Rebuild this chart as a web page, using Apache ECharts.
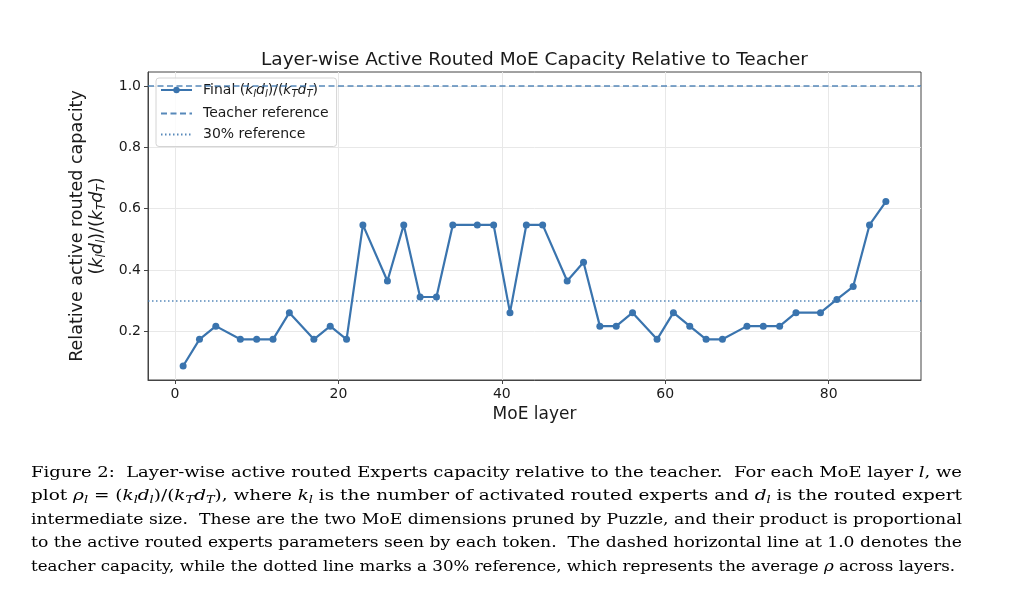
<!DOCTYPE html>
<html>
<head>
<meta charset="utf-8">
<script src="https://cdn.jsdelivr.net/npm/echarts@6/dist/echarts.min.js"></script>
<style>
  html, body { margin: 0; padding: 0; background: #fff; }
  #chart { width: 1024px; height: 596px; }
</style>
</head>
<body>
<div id="chart"></div>
<script>
// MoE layer index and final (k_l d_l)/(k_T d_T)
const moeLayers = [1, 3, 5, 8, 10, 12, 14, 17, 19, 21, 23, 26, 28, 30, 32, 34, 37, 39, 41, 43,
  45, 48, 50, 52, 54, 56, 59, 61, 63, 65, 67, 70, 72, 74, 76, 79, 81, 83, 85, 87];
const capacity = [0.087, 0.174, 0.217, 0.174, 0.174, 0.174, 0.261, 0.174, 0.217, 0.174,
  0.547, 0.364, 0.547, 0.312, 0.312, 0.547, 0.547, 0.547, 0.261, 0.547,
  0.547, 0.364, 0.425, 0.217, 0.217, 0.261, 0.174, 0.261, 0.217, 0.174,
  0.174, 0.217, 0.217, 0.217, 0.261, 0.261, 0.304, 0.346, 0.547, 0.623];
const teacherRef = 1.0;
const avgRef = 0.3;
const xTicks = [0, 20, 40, 60, 80];
const yTicks = [0.2, 0.4, 0.6, 0.8, 1.0];

const blue = '#3a74ae';
const ink = '#1a1a1a';
const sans = 'DejaVu Sans';
const serif = 'DejaVu Serif';

// matplotlib style 5% margins
function padded(lo, hi) {
  const m = (hi - lo) * 0.05;
  return [lo - m, hi + m];
}
const xr = padded(Math.min(...moeLayers), Math.max(...moeLayers));
const yr = padded(Math.min(...capacity, teacherRef), Math.max(...capacity, teacherRef));

const mathRich = (size, lh) => ({
  n: { fontFamily: sans, fontSize: size, color: ink, lineHeight: lh },
  i: { fontFamily: sans, fontSize: size, fontStyle: 'italic', color: ink, lineHeight: lh },
  s: { fontFamily: sans, fontSize: Math.round(size * 0.7), fontStyle: 'italic', color: ink,
       verticalAlign: 'bottom', lineHeight: Math.round(size * 0.7) + 2 }
});
const ratioRich = '{n|(}{i|k}{s|l}{i|d}{s|l}{n|)/(}{i|k}{s|T}{i|d}{s|T}{n|)}';

// caption, split the way the figure wraps it
const caption = [
  [['n', 'Figure 2:  Layer-wise active routed Experts capacity relative to the teacher.  For each MoE layer '], ['i', 'l'], ['n', ', we']],
  [['n', 'plot '], ['i', 'ρ'], ['s', 'l'], ['n', ' = ('], ['i', 'k'], ['s', 'l'], ['i', 'd'], ['s', 'l'], ['n', ')/('], ['i', 'k'], ['s', 'T'], ['i', 'd'], ['s', 'T'],
   ['n', '), where '], ['i', 'k'], ['s', 'l'], ['n', ' is the number of activated routed experts and '], ['i', 'd'], ['s', 'l'], ['n', ' is the routed expert']],
  [['n', 'intermediate size.  These are the two MoE dimensions pruned by Puzzle, and their product is proportional']],
  [['n', 'to the active routed experts parameters seen by each token.  The dashed horizontal line at 1.0 denotes the']],
  [['n', 'teacher capacity, while the dotted line marks a 30% reference, which represents the average '], ['i', 'ρ'], ['n', ' across layers.']]
];
const capSize = 15;
const capRich = {
  n: { fontFamily: serif, fontSize: capSize, color: '#111', lineHeight: 19 },
  i: { fontFamily: serif, fontSize: capSize, fontStyle: 'italic', color: '#111', lineHeight: 19 },
  s: { fontFamily: serif, fontSize: 10.5, fontStyle: 'italic', color: '#111', verticalAlign: 'bottom', lineHeight: 13 }
};
const ctx = document.createElement('canvas').getContext('2d');
function segWidth(style, text) {
  const st = capRich[style];
  ctx.font = (st.fontStyle || 'normal') + ' normal ' + st.fontSize + 'px "' + st.fontFamily + '"';
  return ctx.measureText(text).width;
}
const capLeft = 31, capRight = 962, capTop = 473, capStep = 23.5;
const captionEls = caption.map((line, k) => {
  const w = line.reduce((a, [st, t]) => a + segWidth(st, t), 0);
  const target = (k === caption.length - 1 ? 955 : capRight) - capLeft;
  return {
    type: 'text', x: capLeft, y: capTop + k * capStep, scaleX: target / w, silent: true,
    style: {
      text: line.map(([st, t]) => '{' + st + '|' + t + '}').join(''),
      rich: capRich, verticalAlign: 'middle'
    }
  };
});

const titleEl = {
  type: 'text', x: 534.5, y: 60, silent: true,
  style: {
    text: 'Layer-wise Active Routed MoE Capacity Relative to Teacher',
    fontFamily: sans, fontSize: 18.5, fill: ink, align: 'center', verticalAlign: 'middle'
  }
};

const hidden = { color: 'rgba(0,0,0,0)', borderWidth: 0 };

const chart = echarts.init(document.getElementById('chart'), null, { renderer: 'canvas' });
chart.setOption({
  animation: false,
  backgroundColor: '#fff',
  legend: {
    orient: 'vertical', left: 156, top: 78,
    padding: [5, 8, 5, 4], itemGap: 7, itemWidth: 31, itemHeight: 8,
    backgroundColor: 'rgba(255,255,255,0.8)', borderColor: '#d4d4d4', borderWidth: 1, borderRadius: 3,
    textStyle: { fontFamily: sans, fontSize: 14, color: ink, padding: [0, 0, 0, 6], rich: mathRich(14, 19) },
    formatter: (name) => name === 'final' ? '{n|Final }' + ratioRich : '{n|' + name + '}',
    data: [
      'final',
      { name: 'Teacher reference', itemStyle: hidden },
      { name: '30% reference', itemStyle: hidden }
    ]
  },
  grid: { left: 148, right: 103, top: 72, bottom: 216, show: true, borderColor: '#444', borderWidth: 1 },
  xAxis: {
    type: 'value', min: xr[0], max: xr[1],
    name: 'MoE layer', nameLocation: 'middle', nameGap: 23,
    nameTextStyle: { fontFamily: sans, fontSize: 17, color: ink },
    axisLine: { show: true, onZero: false, lineStyle: { color: '#444' } },
    axisTick: { show: true, length: 4, customValues: xTicks, lineStyle: { color: '#444' } },
    axisLabel: { customValues: xTicks, margin: 7, fontFamily: sans, fontSize: 14, color: ink },
    splitLine: { show: true, lineStyle: { color: '#e8e8e8', width: 1 } }
  },
  yAxis: {
    type: 'value', min: yr[0], max: yr[1],
    name: '{n|Relative active routed capacity}\n' + ratioRich,
    nameLocation: 'middle', nameGap: 39, nameRotate: 90,
    nameTextStyle: { fontFamily: sans, fontSize: 17.5, color: ink, rich: mathRich(17.5, 20) },
    axisLine: { show: true, onZero: false, lineStyle: { color: '#444' } },
    axisTick: { show: true, length: 4, customValues: yTicks, lineStyle: { color: '#444' } },
    axisLabel: { customValues: yTicks, margin: 7, fontFamily: sans, fontSize: 14, color: ink,
      formatter: (v) => v.toFixed(1) },
    splitLine: { show: true, lineStyle: { color: '#e8e8e8', width: 1 } }
  },
  series: [
    {
      name: 'final', type: 'line', z: 5,
      data: moeLayers.map((l, i) => [l, capacity[i]]),
      symbol: 'circle', symbolSize: 7,
      itemStyle: { color: blue },
      lineStyle: { color: blue, width: 2.2 }
    },
    {
      name: 'Teacher reference', type: 'line', data: [], symbol: 'none',
      itemStyle: { color: blue },
      lineStyle: { color: blue, width: 1.5, type: [6, 3.5], opacity: 0.85 },
      markLine: {
        silent: true, symbol: 'none', label: { show: false },
        lineStyle: { color: blue, width: 1.5, type: [6, 3.5], opacity: 0.85 },
        data: [{ yAxis: teacherRef }]
      }
    },
    {
      name: '30% reference', type: 'line', data: [], symbol: 'none',
      itemStyle: { color: blue },
      lineStyle: { color: blue, width: 1.5, type: [1.5, 2.5], opacity: 0.85 },
      markLine: {
        silent: true, symbol: 'none', label: { show: false },
        lineStyle: { color: blue, width: 1.5, type: [1.5, 2.5], opacity: 0.85 },
        data: [{ yAxis: avgRef }]
      }
    }
  ],
  graphic: [titleEl].concat(captionEls)
});
</script>
</body>
</html>
